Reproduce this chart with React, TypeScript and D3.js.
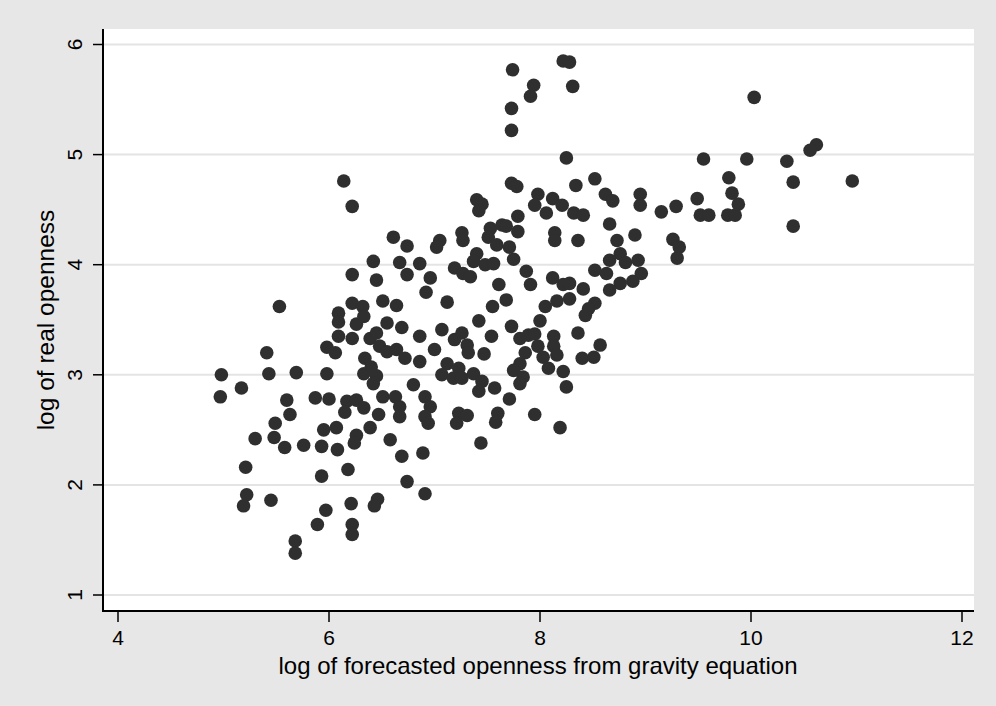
import React from "react";
import { scaleLinear } from "d3";

// log of forecasted openness (x) vs log of real openness (y)
const obs: [number, number][] = [
  [6.14, 4.76], [6.22, 4.53],
  [6.61, 4.25], [6.74, 4.17], [6.42, 4.03], [6.67, 4.02], [6.22, 3.91], [6.45, 3.86], [6.74, 3.91],
  [5.53, 3.62], [6.22, 3.65], [6.32, 3.62], [6.51, 3.67], [6.64, 3.63], [6.09, 3.56], [6.09, 3.48],
  [6.26, 3.46], [6.33, 3.53], [6.55, 3.47], [6.69, 3.43], [6.09, 3.35], [6.22, 3.33], [6.39, 3.33],
  [6.45, 3.38], [6.48, 3.26], [5.98, 3.25], [6.06, 3.2], [6.55, 3.21], [6.64, 3.23], [6.72, 3.15],
  [5.41, 3.2], [6.34, 3.15], [6.4, 3.07], [4.98, 3.0], [5.43, 3.01], [5.69, 3.02], [5.98, 3.01],
  [6.33, 3.01], [6.45, 2.99], [6.42, 2.92], [5.17, 2.88], [6.8, 2.91],
  [4.97, 2.8], [5.6, 2.77], [5.87, 2.79], [6.0, 2.78], [6.17, 2.76], [6.26, 2.77], [6.15, 2.66],
  [6.33, 2.7], [6.51, 2.8], [6.63, 2.8], [6.67, 2.71], [6.67, 2.62], [5.63, 2.64], [5.49, 2.56],
  [5.48, 2.43], [5.3, 2.42], [5.58, 2.34], [5.76, 2.36], [5.93, 2.35], [6.08, 2.32], [5.95, 2.5],
  [6.07, 2.52], [6.39, 2.52], [6.26, 2.45], [6.24, 2.38], [6.47, 2.64], [6.58, 2.41], [6.69, 2.26],
  [5.21, 2.16], [5.93, 2.08], [6.18, 2.14], [6.74, 2.03], [5.22, 1.91], [5.19, 1.81], [5.45, 1.86],
  [5.97, 1.77], [5.89, 1.64], [6.21, 1.83], [6.46, 1.87], [6.43, 1.81], [6.22, 1.64], [6.22, 1.55],
  [5.68, 1.49], [5.68, 1.38],
  [7.74, 5.77], [8.22, 5.85], [8.28, 5.84], [7.94, 5.63], [7.91, 5.53], [8.31, 5.62], [7.73, 5.42],
  [7.73, 5.22], [8.25, 4.97], [7.73, 4.74], [7.78, 4.71], [8.34, 4.72], [8.52, 4.78], [8.62, 4.64],
  [8.69, 4.58], [8.95, 4.64], [8.95, 4.54], [7.4, 4.59], [7.45, 4.55], [7.42, 4.49], [7.98, 4.64],
  [8.12, 4.6], [8.21, 4.54], [7.95, 4.54], [8.06, 4.47], [8.32, 4.47], [8.41, 4.45], [7.79, 4.44],
  [7.05, 4.22], [7.02, 4.16], [7.26, 4.29], [7.27, 4.22], [7.53, 4.33], [7.64, 4.36], [7.68, 4.35],
  [7.51, 4.25], [7.59, 4.18], [7.71, 4.16], [7.79, 4.3], [8.14, 4.29], [8.14, 4.22], [8.66, 4.37],
  [8.36, 4.22], [8.73, 4.22], [8.9, 4.27], [8.76, 4.1], [8.66, 4.04], [8.81, 4.02], [8.93, 4.04],
  [7.4, 4.1], [7.37, 4.03], [7.48, 4.0], [7.56, 4.01], [7.75, 4.05], [7.19, 3.97], [7.27, 3.92],
  [7.34, 3.89], [6.86, 4.01], [6.96, 3.88], [6.92, 3.75], [7.87, 3.94], [7.91, 3.82], [8.12, 3.88],
  [8.22, 3.82], [8.28, 3.83], [8.52, 3.95], [8.63, 3.92], [8.88, 3.85], [8.76, 3.83], [8.66, 3.77],
  [8.41, 3.78], [7.61, 3.82], [7.12, 3.66], [7.68, 3.68], [7.55, 3.62], [8.05, 3.62], [8.16, 3.67],
  [8.28, 3.69], [8.52, 3.65], [8.46, 3.6], [8.43, 3.54], [7.42, 3.49], [7.07, 3.41], [7.73, 3.44],
  [8.0, 3.49], [6.86, 3.35], [7.26, 3.38], [7.19, 3.32], [7.31, 3.27], [7.54, 3.35], [7.81, 3.33],
  [7.89, 3.36], [7.95, 3.37], [8.13, 3.35], [8.36, 3.38], [7.98, 3.26], [8.13, 3.26], [8.57, 3.27],
  [7.0, 3.23], [7.32, 3.2], [7.47, 3.19], [7.86, 3.2], [8.03, 3.16], [8.16, 3.18], [8.4, 3.15],
  [8.51, 3.16], [6.86, 3.12], [7.12, 3.1], [7.23, 3.06], [7.81, 3.1], [7.75, 3.04], [8.08, 3.06],
  [8.22, 3.03], [7.07, 3.0], [7.18, 2.97], [7.26, 2.97], [7.37, 3.01], [7.45, 2.94], [7.84, 2.98],
  [7.81, 2.92], [7.57, 2.88], [8.25, 2.89],
  [6.91, 2.8], [6.96, 2.71], [6.91, 2.62], [6.94, 2.56], [7.42, 2.85], [7.71, 2.78], [7.23, 2.65],
  [7.31, 2.63], [7.21, 2.56], [7.6, 2.65], [7.58, 2.57], [7.95, 2.64], [8.19, 2.52], [7.44, 2.38],
  [6.89, 2.29], [6.91, 1.92],
  [10.03, 5.52], [10.62, 5.09], [10.56, 5.04], [9.55, 4.96], [9.96, 4.96], [10.34, 4.94], [9.79, 4.79],
  [10.4, 4.75], [10.96, 4.76], [9.49, 4.6], [9.29, 4.53], [9.15, 4.48], [9.82, 4.65], [9.88, 4.55],
  [9.52, 4.45], [9.6, 4.45], [9.78, 4.45], [9.85, 4.45], [10.4, 4.35], [8.96, 3.92], [9.26, 4.23],
  [9.32, 4.16], [9.3, 4.06],
];

const xTicks = [4, 6, 8, 10, 12];
const yTicks = [1, 2, 3, 4, 5, 6];

const xTitle = "log of forecasted openness from gravity equation";
const yTitle = "log of real openness";

const App = () => {
  const width = 996;
  const height = 706;
  const plot = { left: 103, right: 974, top: 29, bottom: 611 };

  const x = scaleLinear().domain([4, 12]).range([118, 962]);
  const y = scaleLinear().domain([1, 6]).range([595, 44.5]);

  const font = "'Liberation Sans', Arial, Helvetica, sans-serif";

  return (
    <svg
      width={width}
      height={height}
      style={{ position: "absolute", left: 0, top: 0 }}
      fontFamily={font}
    >
      <rect x={0} y={0} width={width} height={height} fill="#e7e7e7" />
      <rect
        x={plot.left}
        y={plot.top}
        width={plot.right - plot.left}
        height={plot.bottom - plot.top}
        fill="#ffffff"
      />

      {/* grid */}
      {yTicks.map((t) => (
        <line
          key={"g" + t}
          x1={plot.left}
          x2={plot.right}
          y1={y(t)}
          y2={y(t)}
          stroke="#e4e4e4"
          strokeWidth={2}
        />
      ))}

      {/* points */}
      {obs.map(([a, b], i) => (
        <circle key={i} cx={x(a)} cy={y(b)} r={6.8} fill="#2f2f2f" />
      ))}

      {/* axes */}
      <line x1={plot.left} x2={plot.left} y1={plot.top} y2={plot.bottom + 1} stroke="#000" strokeWidth={2} />
      <line x1={plot.left - 1} x2={plot.right} y1={plot.bottom} y2={plot.bottom} stroke="#000" strokeWidth={2} />

      {yTicks.map((t) => (
        <g key={"y" + t}>
          <line x1={plot.left - 10} x2={plot.left} y1={y(t)} y2={y(t)} stroke="#000" strokeWidth={1.5} />
          <text
            transform={`translate(82,${y(t)}) rotate(-90)`}
            textAnchor="middle"
            fontSize={21}
            fill="#000"
          >
            {t}
          </text>
        </g>
      ))}

      {xTicks.map((t) => (
        <g key={"x" + t}>
          <line x1={x(t)} x2={x(t)} y1={plot.bottom} y2={plot.bottom + 11} stroke="#000" strokeWidth={1.5} />
          <text x={x(t)} y={645} textAnchor="middle" fontSize={21} fill="#000">
            {t}
          </text>
        </g>
      ))}

      <text x={538} y={674} textAnchor="middle" fontSize={24} fill="#000">
        {xTitle}
      </text>
      <text
        transform={`translate(54,320) rotate(-90)`}
        textAnchor="middle"
        fontSize={24.5}
        fill="#000"
      >
        {yTitle}
      </text>
    </svg>
  );
};

export default App;
